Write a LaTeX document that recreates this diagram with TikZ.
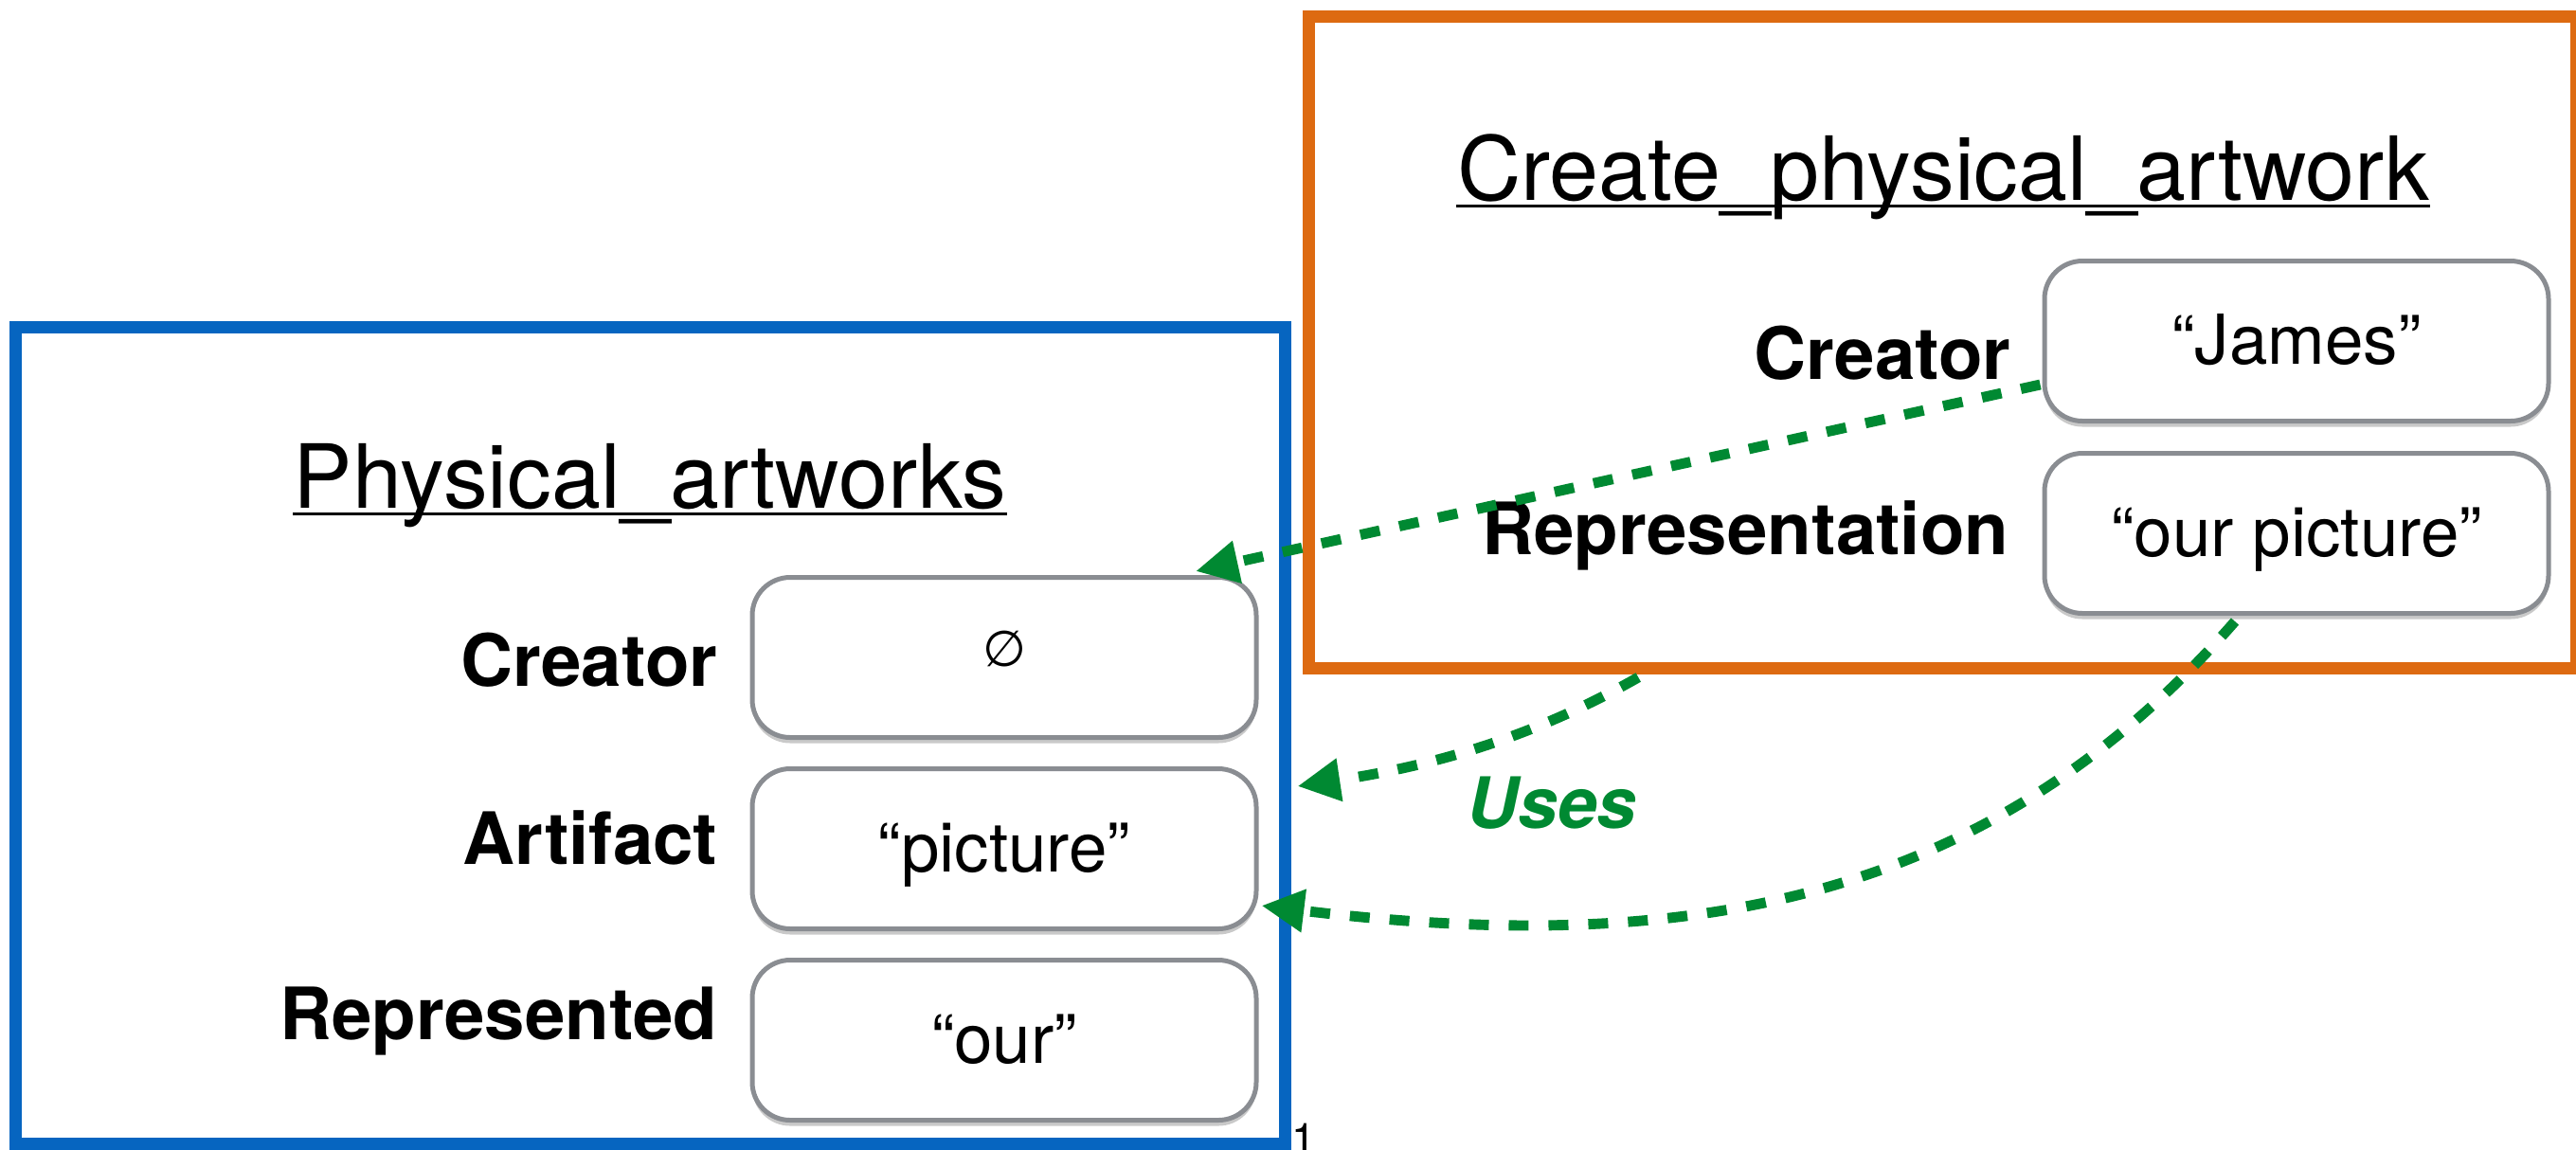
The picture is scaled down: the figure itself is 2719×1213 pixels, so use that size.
\documentclass[tikz,border=0pt]{standalone}
\usepackage{fontspec}
\setmainfont{TeX Gyre Heros}
\newfontfamily\symfnt{DejaVu Sans}
\usetikzlibrary{arrows.meta,calc,shadows}
\definecolor{frameblue}{RGB}{6,101,192}
\definecolor{frameorange}{RGB}{221,106,17}
\definecolor{boxgray}{RGB}{138,141,146}
\definecolor{usegreen}{RGB}{0,137,50}
\tikzset{
  frame/.style={draw, line width=1.3mm, inner sep=0pt},
  valbox/.style={draw=boxgray, line width=1.42pt, rounded corners=4mm, fill=white,
    minimum width=53.2mm, minimum height=16.9mm, inner sep=0pt,
    text height=16pt, text depth=1.8pt,
    font=\fontsize{20.7pt}{24pt}\selectfont,
    drop shadow={shadow xshift=0mm, shadow yshift=-0.6mm, opacity=0.3, fill=black!70}},
  lbl/.style={font=\fontsize{21.7pt}{24pt}\selectfont\bfseries, inner sep=0pt, anchor=base east},
  ttl/.style={font=\fontsize{26.6pt}{30pt}\selectfont, inner sep=0pt, anchor=base},
  ulin/.style={line width=0.85pt},
  arr/.style={draw=usegreen, line width=3.1pt, dash pattern=on 2.1mm off 2.1mm,
    -{Triangle[length=4.5mm,width=4.3mm]}}
}
\begin{document}
\begin{tikzpicture}[x=0.1mm,y=-0.1mm]
\useasboundingbox (0,0) rectangle (2719,1213);
% frames
\node[frame, draw=frameblue, minimum width=134mm, minimum height=86.2mm] (pa) at (686,776) {};
\node[frame, draw=frameorange, minimum width=133.85mm, minimum height=68.85mm] (cpa) at (2050.25,361.25) {};
% titles
\node[ttl] (pat) at (686,536) {Physical\_artworks};
\draw[ulin] ($(pat.base west)+(0,6)$) -- ($(pat.base east)+(0,6)$);
\node[ttl] (cpat) at (2051,211) {Create\_physical\_artwork};
\draw[ulin] ($(cpat.base west)+(0,6)$) -- ($(cpat.base east)+(0,6)$);
% left value boxes
\node[valbox] (lb1) at (1060,694) {\raisebox{4.3pt}{\symfnt\fontsize{15pt}{18pt}\selectfont ∅}};
\node[valbox] (lb2) at (1060,896) {“picture”};
\node[valbox] (lb3) at (1060,1098) {“our”};
% right value boxes
\node[valbox] (rb1) at (2424,360) {“James”};
\node[valbox] (rb2) at (2424,563) {“our picture”};
% labels
\node[lbl] (lc) at (758,724) {Creator};
\node[lbl] (la) at (758,912) {Artifact};
\node[lbl] (lr) at (758,1097) {Represented};
\node[lbl] (rc) at (2123,400) {Creator};
\node[lbl] (rr) at (2121,585) {Representation};
% uses label
\node[font=\fontsize{21.3pt}{24pt}\selectfont\bfseries\itshape, text=usegreen, inner sep=0pt, anchor=base] (uses) at (1638,874) {Uses};
% page number
\node[font=\fontsize{13pt}{15pt}\selectfont, inner sep=0pt, anchor=base west] (pg) at (1363,1218) {1};
% arrows
\draw[arr] ($(rb1.west)+(-2,46)$) -- ($(lb1.north)+(202,-4)$);
\draw[arr] ($(cpa.south)+(-321,3)$) .. controls (1610,783) and (1502,810) .. ($(pa.east)+(7,54)$);
\draw[arr] ($(rb2.south)+(-65,6)$) .. controls (2097,956) and (1775,1010) .. ($(lb2.east)+(3,60)$);
\end{tikzpicture}
\end{document}
